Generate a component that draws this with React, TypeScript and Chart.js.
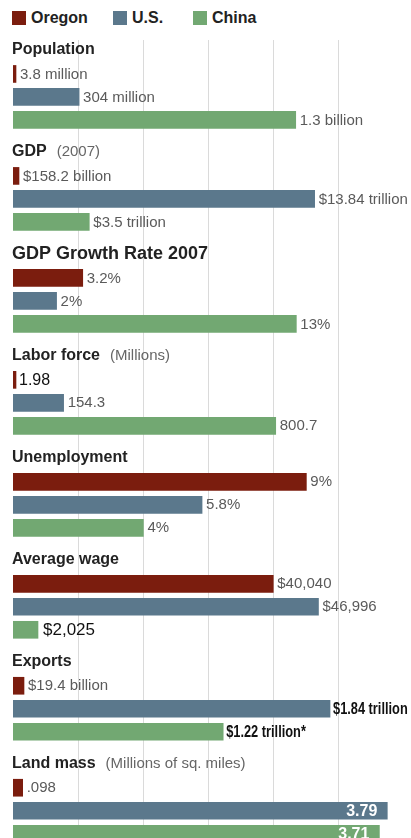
import React, { useEffect, useRef } from "react";
import { Chart, registerables } from "chart.js";

Chart.register(...registerables);

// ---------- data ----------
const countries = ["Oregon", "U.S.", "China"];
const countryColors = ["#7b1d0e", "#5b788c", "#72a872"];

const groupTitles = [
  "Population",
  "GDP",
  "GDP Growth Rate 2007",
  "Labor force",
  "Unemployment",
  "Average wage",
  "Exports",
  "Land mass",
];
const groupNotes = ["", "(2007)", "", "(Millions)", "", "", "", "(Millions of sq. miles)"];

// values: Oregon, U.S., China
const population = [3.8, 304, 1300]; // millions
const gdp = [158.2, 13840, 3500]; // billions of $
const gdpGrowth = [3.2, 2, 13]; // %
const laborForce = [1.98, 154.3, 800.7]; // millions
const unemployment = [9, 5.8, 4]; // %
const averageWage = [40040, 46996, 2025]; // $
const exportsValues = [19.4, 1840, 1220]; // billions of $
const landMass = [0.098, 3.79, 3.71]; // millions of sq. miles

const populationLabels = ["3.8 million", "304 million", "1.3 billion"];
const gdpLabels = ["$158.2 billion", "$13.84 trillion", "$3.5 trillion"];
const gdpGrowthLabels = ["3.2%", "2%", "13%"];
const laborForceLabels = ["1.98", "154.3", "800.7"];
const unemploymentLabels = ["9%", "5.8%", "4%"];
const averageWageLabels = ["$40,040", "$46,996", "$2,025"];
const exportsLabels = ["$19.4 billion", "$1.84 trillion", "$1.22 trillion*"];
const landMassLabels = [".098", "3.79", "3.71"];

const groupValues = [population, gdp, gdpGrowth, laborForce, unemployment, averageWage, exportsValues, landMass];
const groupLabels = [
  populationLabels,
  gdpLabels,
  gdpGrowthLabels,
  laborForceLabels,
  unemploymentLabels,
  averageWageLabels,
  exportsLabels,
  landMassLabels,
];

// each panel has its own value scale (upper bound of the axis)
const groupAxisMax = [1830, 18260, 18.26, 1213, 12.21, 61230, 2310, 4.03];

// ---------- styling ----------
const minBarLengths = [3, 6, 0, 3, 0, 25, 11, 0];
const labelStyles = [
  ["n", "n", "n"],
  ["n", "n", "n"],
  ["n", "n", "n"],
  ["d", "n", "n"],
  ["n", "n", "n"],
  ["n", "n", "d2"],
  ["n", "b", "b"],
  ["n", "in", "in"],
];
const FONT = "'Liberation Sans', Arial, sans-serif";
const GROUP_PITCH = 4.4335; // in bar rows
const TITLE_OFFSET = 1.05; // title sits this many rows above the first bar

const labelPlugin = {
  id: "panelLabels",
  afterDatasetsDraw(chart: any) {
    const ctx = chart.ctx;
    ctx.save();
    ctx.textBaseline = "middle";
    groupValues.forEach((_, g) => {
      const meta = chart.getDatasetMeta(g);
      meta.data.forEach((el: any, i: number) => {
        const style = labelStyles[g][i];
        const text = groupLabels[g][i];
        let x = el.x + 4;
        ctx.textAlign = "left";
        if (style === "in") {
          ctx.font = `bold 16px ${FONT}`;
          ctx.fillStyle = "#ffffff";
          ctx.textAlign = "right";
          x = el.x - 10;
        } else if (style === "b") {
          // condensed bold label
          ctx.save();
          ctx.font = `bold 16px ${FONT}`;
          ctx.fillStyle = "#111111";
          ctx.translate(el.x + 3, el.y + 0.5);
          ctx.scale(0.8, 1);
          ctx.fillText(text, 0, 0);
          ctx.restore();
          return;
        } else if (style === "d") {
          ctx.font = `16px ${FONT}`;
          ctx.fillStyle = "#111111";
          x = el.x + 3;
        } else if (style === "d2") {
          ctx.font = `17px ${FONT}`;
          ctx.fillStyle = "#111111";
          x = el.x + 5;
        } else {
          ctx.font = `15px ${FONT}`;
          ctx.fillStyle = "#5a5a5a";
        }
        ctx.fillText(text, x, el.y + 0.5);
      });
    });

    const yScale = chart.scales.y;
    groupTitles.forEach((title, g) => {
      const y = yScale.getPixelForValue(g * GROUP_PITCH - TITLE_OFFSET);
      ctx.textAlign = "left";
      ctx.font = `bold ${g === 2 ? 18 : 16}px ${FONT}`;
      ctx.fillStyle = "#222222";
      ctx.fillText(title, 12, y);
      const note = groupNotes[g];
      if (note) {
        const w = ctx.measureText(title).width;
        ctx.font = `15px ${FONT}`;
        ctx.fillStyle = "#666666";
        ctx.fillText(note, 12 + w + 10, y);
      }
    });
    ctx.restore();
  },
};

export default function App() {
  const canvasRef = useRef<HTMLCanvasElement | null>(null);

  useEffect(() => {
    document.body.style.margin = "0";
    const canvas = canvasRef.current;
    if (!canvas) return;

    const datasets = groupValues.map((vals, g) => ({
      label: groupTitles[g],
      data: vals.map((v, i) => ({ x: v, y: g * GROUP_PITCH + i })),
      xAxisID: "x" + g,
      yAxisID: "y",
      backgroundColor: countryColors,
      borderWidth: 0,
      barThickness: 17,
      minBarLength: minBarLengths[g],
      grouped: false,
    }));

    const scales: any = {
      y: {
        type: "linear",
        reverse: true,
        offset: false,
        min: -1.476,
        max: 33.22,
        display: false,
      },
      xg: {
        type: "linear",
        axis: "x",
        position: "bottom",
        offset: false,
        min: 0,
        max: 6.123,
        ticks: { display: false, stepSize: 1 },
        grid: {
          drawTicks: false,
          lineWidth: 1,
          color: (c: any) =>
            c.tick && c.tick.value >= 1 && c.tick.value <= 5 ? "#dadada" : "rgba(0,0,0,0)",
        },
        border: { display: false },
      },
    };
    groupAxisMax.forEach((m, g) => {
      scales["x" + g] = { type: "linear", axis: "x", display: false, offset: false, min: 0, max: m };
    });

    const chart = new Chart(canvas, {
      type: "bar",
      data: { datasets } as any,
      options: {
        indexAxis: "y",
        animation: false,
        responsive: true,
        maintainAspectRatio: false,
        layout: { padding: { left: 13, right: 0, top: 0, bottom: 0 } },
        plugins: { legend: { display: false }, tooltip: { enabled: false } },
        scales,
      } as any,
      plugins: [labelPlugin],
    });
    return () => chart.destroy();
  }, []);

  const legendLeft = [12, 113, 193];
  return (
    <div style={{ width: 411, height: 838, background: "#fff", fontFamily: FONT }}>
      <div style={{ position: "relative", height: 40 }}>
        {countries.map((c, i) => (
          <React.Fragment key={c}>
            <span
              style={{
                position: "absolute",
                left: legendLeft[i],
                top: 11,
                width: 14,
                height: 14,
                background: countryColors[i],
              }}
            />
            <span
              style={{
                position: "absolute",
                left: legendLeft[i] + 19,
                top: 8,
                lineHeight: "19px",
                fontSize: 16,
                fontWeight: "bold",
                color: "#222",
              }}
            >
              {c}
            </span>
          </React.Fragment>
        ))}
      </div>
      <div style={{ position: "relative", width: 411, height: 798 }}>
        <canvas ref={canvasRef} />
      </div>
    </div>
  );
}
